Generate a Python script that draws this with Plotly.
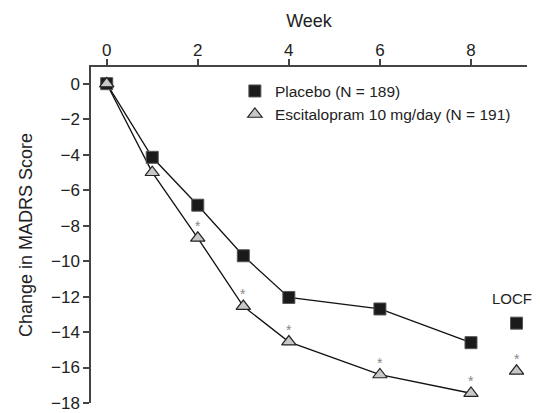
import plotly.graph_objects as go

# ---- data ----
weeks = [0, 1, 2, 3, 4, 6, 8]
placebo = [0, -4.15, -6.85, -9.7, -12.05, -12.7, -14.6]
escitalopram = [0, -5.0, -8.7, -12.55, -14.55, -16.4, -17.45]
escit_signif = [False, False, True, True, True, True, True]

locf_x = 9
placebo_locf = -13.5
escitalopram_locf = -16.2
escit_locf_signif = True

x_ticks = [0, 2, 4, 6, 8]
y_ticks = [0, -2, -4, -6, -8, -10, -12, -14, -16, -18]

placebo_name = "Placebo (N = 189)"
escit_name = "Escitalopram 10 mg/day (N = 191)"

FONT = "Liberation Sans, Arial, Helvetica, sans-serif"
TXT = "#222222"

sq_marker = dict(symbol="square", size=12, color="#1a1a1a",
                 line=dict(color="#555555", width=1))
tri_marker = dict(symbol="triangle-up", size=12.5, color="#c8c8c8",
                  line=dict(color="#222222", width=1.2))
line_style = dict(color="#111111", width=1.3)

fig = go.Figure()

# connecting lines (no legend)
fig.add_trace(go.Scatter(x=weeks, y=placebo, mode="lines", line=line_style,
                         showlegend=False, hoverinfo="skip"))
fig.add_trace(go.Scatter(x=weeks, y=escitalopram, mode="lines", line=line_style,
                         showlegend=False, hoverinfo="skip"))

# markers (legend entries)
fig.add_trace(go.Scatter(x=weeks + [locf_x], y=placebo + [placebo_locf],
                         name=placebo_name, mode="markers", marker=sq_marker))
fig.add_trace(go.Scatter(x=weeks + [locf_x], y=escitalopram + [escitalopram_locf],
                         name=escit_name, mode="markers", marker=tri_marker))

annotations = []
star_x = [w for w, s in zip(weeks, escit_signif) if s]
star_y = [v for v, s in zip(escitalopram, escit_signif) if s]
if escit_locf_signif:
    star_x.append(locf_x)
    star_y.append(escitalopram_locf)
for sx, sy in zip(star_x, star_y):
    annotations.append(dict(x=sx, y=sy, xref="x", yref="y", text="*",
                            showarrow=False, yshift=12,
                            font=dict(family=FONT, size=14, color="#888888")))

annotations.append(dict(x=locf_x, y=-12.1, xref="x", yref="y", text="LOCF",
                        showarrow=False, xshift=-5,
                        font=dict(family=FONT, size=15, color=TXT)))

# page body has an 8px default margin, so the figure is offset by 8px;
# size it so that it fits in the 540x413 window
fig.update_layout(
    width=532, height=405,
    margin=dict(l=83, r=13, t=59, b=10, autoexpand=False),
    paper_bgcolor="white", plot_bgcolor="white",
    font=dict(family=FONT, size=17, color=TXT),
    showlegend=True,
    legend=dict(x=0.33, y=0.978, xanchor="left", yanchor="top",
                bgcolor="rgba(0,0,0,0)", font=dict(family=FONT, size=15.5, color=TXT),
                tracegroupgap=0),
    annotations=annotations,
)

fig.update_xaxes(
    side="top", range=[-0.345, 9.23], tickvals=x_ticks, automargin=False,
    ticks="outside", ticklen=6, tickwidth=1.5, tickcolor="#444444",
    ticklabelstandoff=-4,
    showline=True, linecolor="#444444", linewidth=1.5,
    showgrid=False, zeroline=False,
    tickfont=dict(family=FONT, size=17, color=TXT),
    title=dict(text="Week", font=dict(family=FONT, size=18, color=TXT), standoff=9),
)
fig.update_yaxes(
    range=[-18, 0.94], tickvals=y_ticks, automargin=False,
    ticks="outside", ticklen=6, tickwidth=1.5, tickcolor="#444444",
    showline=True, linecolor="#444444", linewidth=1.5,
    showgrid=False, zeroline=False,
    tickfont=dict(family=FONT, size=17, color=TXT),
    title=dict(text="Change in MADRS Score", font=dict(family=FONT, size=18, color=TXT), standoff=14),
)

fig.write_html("out.html")
